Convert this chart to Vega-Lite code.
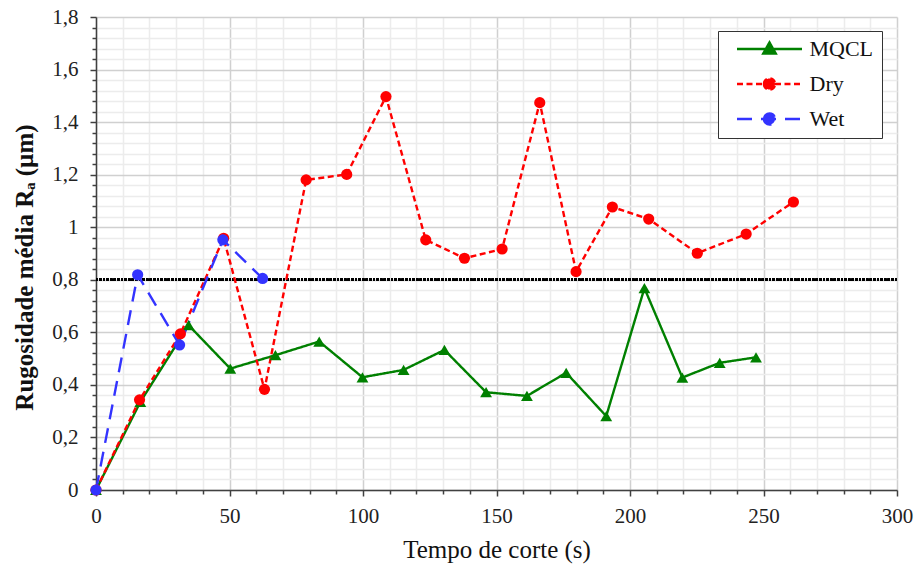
{
  "$schema": "https://vega.github.io/schema/vega-lite/v6.json",
  "width": 801,
  "height": 473,
  "autosize": {"type": "none"},
  "padding": {"left": 96, "top": 17, "right": 19, "bottom": 75},
  "background": "white",
  "config": {
    "view": {"stroke": null},
    "font": "Liberation Serif",
    "legend": {"symbolOpacity": 1},
    "axis": {
      "labelFont": "Liberation Serif",
      "titleFont": "Liberation Serif",
      "labelColor": "#222222",
      "titleColor": "#111111",
      "domainColor": "#404040",
      "domainWidth": 1.5,
      "tickColor": "#404040",
      "tickWidth": 1.5,
      "labelFlush": false,
      "labelOverlap": false
    }
  },
  "data": {
    "values": [
      {"series": "MQCL", "t": 0, "ra": 0},
      {"series": "MQCL", "t": 16.6, "ra": 0.335},
      {"series": "MQCL", "t": 34.7, "ra": 0.627},
      {"series": "MQCL", "t": 50.3, "ra": 0.462},
      {"series": "MQCL", "t": 67.2, "ra": 0.513},
      {"series": "MQCL", "t": 83.6, "ra": 0.565},
      {"series": "MQCL", "t": 99.8, "ra": 0.429},
      {"series": "MQCL", "t": 115.2, "ra": 0.457},
      {"series": "MQCL", "t": 130.5, "ra": 0.533},
      {"series": "MQCL", "t": 146.1, "ra": 0.372},
      {"series": "MQCL", "t": 161.4, "ra": 0.358},
      {"series": "MQCL", "t": 176.1, "ra": 0.446},
      {"series": "MQCL", "t": 191.1, "ra": 0.281},
      {"series": "MQCL", "t": 205.4, "ra": 0.768},
      {"series": "MQCL", "t": 219.6, "ra": 0.428},
      {"series": "MQCL", "t": 233.6, "ra": 0.484},
      {"series": "MQCL", "t": 247.2, "ra": 0.505},
      {"series": "Dry", "t": 0, "ra": 0},
      {"series": "Dry", "t": 16.3, "ra": 0.343},
      {"series": "Dry", "t": 31.6, "ra": 0.594},
      {"series": "Dry", "t": 47.8, "ra": 0.958},
      {"series": "Dry", "t": 63.1, "ra": 0.383},
      {"series": "Dry", "t": 78.7, "ra": 1.18},
      {"series": "Dry", "t": 93.9, "ra": 1.201},
      {"series": "Dry", "t": 108.6, "ra": 1.497},
      {"series": "Dry", "t": 123.5, "ra": 0.952},
      {"series": "Dry", "t": 138.0, "ra": 0.882},
      {"series": "Dry", "t": 152.1, "ra": 0.917},
      {"series": "Dry", "t": 166.2, "ra": 1.474},
      {"series": "Dry", "t": 179.8, "ra": 0.831},
      {"series": "Dry", "t": 193.4, "ra": 1.077},
      {"series": "Dry", "t": 207.0, "ra": 1.031},
      {"series": "Dry", "t": 225.2, "ra": 0.901},
      {"series": "Dry", "t": 243.5, "ra": 0.974},
      {"series": "Dry", "t": 261.2, "ra": 1.096},
      {"series": "Wet", "t": 0, "ra": 0},
      {"series": "Wet", "t": 15.6, "ra": 0.819},
      {"series": "Wet", "t": 31.3, "ra": 0.552},
      {"series": "Wet", "t": 47.5, "ra": 0.952},
      {"series": "Wet", "t": 62.4, "ra": 0.805}
    ]
  },
  "encoding": {
    "x": {
      "field": "t",
      "type": "quantitative",
      "scale": {"domain": [0, 300], "nice": false, "zero": false},
      "axis": {
        "title": "Tempo de corte (s)",
        "titleFontSize": 25,
        "titleFontWeight": "normal",
        "titlePadding": 11,
        "labelFontSize": 21,
        "labelPadding": 9,
        "values": [0, 10, 20, 30, 40, 50, 60, 70, 80, 90, 100, 110, 120, 130, 140, 150, 160, 170, 180, 190, 200, 210, 220, 230, 240, 250, 260, 270, 280, 290, 300],
        "labelExpr": "datum.value % 50 === 0 ? format(datum.value, 'd') : ''",
        "grid": true,
        "gridColor": {"condition": {"test": "datum.value % 50 === 0", "value": "#d0d0d0"}, "value": "#ececec"},
        "gridWidth": 1.5,
        "tickSize": {"condition": {"test": "datum.value % 50 === 0", "value": 6}, "value": 4}
      }
    },
    "y": {
      "field": "ra",
      "type": "quantitative",
      "scale": {"domain": [0, 1.8], "nice": false, "zero": false},
      "axis": {
        "title": "Rugosidade média Rₐ (µm)",
        "titleFontSize": 25,
        "titleFontWeight": "bold",
        "titlePadding": 14,
        "titleY": 250,
        "labelFontSize": 21,
        "labelPadding": 12,
        "values": [0, 0.04, 0.08, 0.12, 0.16, 0.2, 0.24, 0.28, 0.32, 0.36, 0.4, 0.44, 0.48, 0.52, 0.56, 0.6, 0.64, 0.68, 0.72, 0.76, 0.8, 0.84, 0.88, 0.92, 0.96, 1, 1.04, 1.08, 1.12, 1.16, 1.2, 1.24, 1.28, 1.32, 1.36, 1.4, 1.44, 1.48, 1.52, 1.56, 1.6, 1.64, 1.68, 1.72, 1.76, 1.8],
        "labelExpr": "round(datum.value * 100) % 20 === 0 ? replace(format(datum.value, '~g'), '.', ',') : ''",
        "grid": true,
        "gridColor": {"condition": {"test": "round(datum.value * 100) % 20 === 0", "value": "#d0d0d0"}, "value": "#ececec"},
        "gridWidth": 1.5,
        "tickSize": {"condition": {"test": "round(datum.value * 100) % 20 === 0", "value": 6}, "value": 4}
      }
    }
  },
  "layer": [
    {
      "mark": {"type": "rule", "color": "black", "strokeDash": [2, 1.6], "strokeWidth": 2.2},
      "encoding": {"y": {"datum": 0.8}, "x": null}
    },
    {
      "mark": {"type": "line", "strokeWidth": 2.4},
      "encoding": {
        "color": {
          "field": "series",
          "type": "nominal",
          "scale": {"domain": ["MQCL", "Dry", "Wet"], "range": ["#008000", "#ff0000", "#3333ff"]},
          "legend": {
            "title": null,
            "orient": "none",
            "legendX": 622,
            "legendY": 14,
            "direction": "vertical",
            "padding": 8,
            "strokeColor": "#333333",
            "fillColor": "white",
            "labelFont": "Liberation Serif",
            "labelFontSize": 22,
            "labelColor": "#111111",
            "symbolSize": 4225,
            "symbolStrokeWidth": 2.5,
            "symbolOpacity": 1,
            "symbolOffset": 9.5,
            "labelOffset": 6,
            "rowPadding": 13,
            "clipHeight": 20
          }
        },
        "strokeDash": {
          "field": "series",
          "type": "nominal",
          "scale": {"domain": ["MQCL", "Dry", "Wet"], "range": [[1, 0], [6, 3.5], [15, 9]]},
          "legend": null
        }
      }
    },
    {
      "transform": [{"filter": "datum.series === 'MQCL'"}],
      "mark": {"type": "point", "filled": true, "opacity": 1, "shape": "triangle-up", "size": 140},
      "encoding": {
        "color": {"field": "series", "type": "nominal", "legend": null}
      }
    },
    {
      "transform": [{"filter": "datum.series !== 'MQCL'"}],
      "mark": {"type": "point", "filled": true, "opacity": 1, "shape": "circle", "size": 125},
      "encoding": {
        "color": {"field": "series", "type": "nominal", "legend": null}
      }
    },
    {
      "mark": {"type": "point", "filled": true, "opacity": 0, "size": 10},
      "encoding": {
        "color": {"field": "series", "type": "nominal", "legend": null},
        "shape": {
          "field": "series",
          "type": "nominal",
          "scale": {
            "domain": ["MQCL", "Dry", "Wet"],
            "range": [
              "M-1,0L1,0M0,-0.2L0.19,0.14L-0.19,0.14Z",
              "M-1,0L1,0M-0.17,0A0.17,0.17 0 1,1 0.17,0A0.17,0.17 0 1,1 -0.17,0Z",
              "M-1,0L1,0M-0.17,0A0.17,0.17 0 1,1 0.17,0A0.17,0.17 0 1,1 -0.17,0Z"
            ]
          },
          "legend": null
        }
      }
    }
  ]
}
